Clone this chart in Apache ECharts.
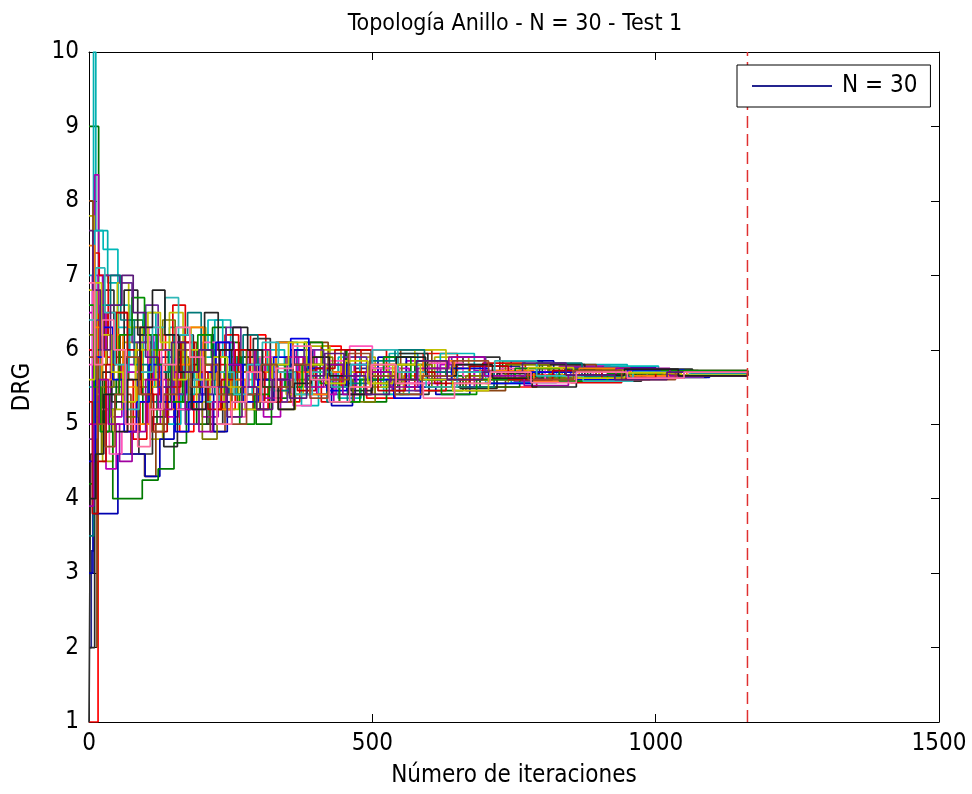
<!DOCTYPE html>
<html>
<head>
<meta charset="utf-8">
<script src="https://cdn.jsdelivr.net/npm/echarts@6/dist/echarts.min.js"></script>
<style>
html,body{margin:0;padding:0;background:#fff;}
#chart{width:972px;height:794px;}
</style>
</head>
<body>
<div id="chart"></div>
<script>
// ---- data: [iteration, DRG] pairs for each node ----
const drg01 = [[0,2.0],[4,3.3],[9,5.1],[22,4.9],[40,5.5],[62,5.3],[85,6.1],[110,5.5],[128,5.9],[150,5.2],[175,5.6],[198,6.2],[220,5.7],[246,5.4],[270,5.9],[300,5.5],[330,5.8],[362,6.0],[395,5.6],[430,5.4],[470,5.75],[520,5.9],[575,5.6],[630,5.5],[690,5.78],[760,5.62],[840,5.72],[930,5.66],[1040,5.70],[1162,5.69]];
const drg02 = [[0,9.0],[17,6.3],[30,5.2],[48,5.6],[70,6.4],[95,5.0],[120,5.4],[140,6.0],[165,5.3],[190,5.0],[212,5.5],[240,6.1],[265,5.8],[290,5.2],[318,5.5],[350,5.9],[385,5.4],[420,5.7],[455,6.0],[500,5.5],[545,5.8],[600,5.45],[660,5.7],[730,5.85],[800,5.6],[880,5.75],[970,5.64],[1080,5.70],[1162,5.68]];
const drg03 = [[0,1.0],[16,6.8],[28,5.9],[45,6.5],[68,4.9],[90,5.3],[112,6.2],[135,5.6],[160,4.9],[185,5.4],[205,6.0],[232,5.2],[258,5.7],[285,6.2],[312,5.6],[340,5.3],[372,5.8],[410,6.05],[445,5.5],[490,5.35],[540,5.7],[590,5.95],[650,5.6],[715,5.5],[790,5.75],[870,5.6],[960,5.72],[1060,5.65],[1162,5.67]];
const drg04 = [[0,5.5],[8,10.0],[12,7.6],[33,6.9],[51,6.6],[72,5.9],[96,6.5],[118,5.7],[142,6.3],[168,5.5],[195,5.9],[222,6.4],[250,5.6],[276,5.3],[305,5.9],[335,6.1],[368,5.5],[400,5.8],[440,5.35],[480,5.6],[530,5.95],[580,5.5],[640,5.8],[700,5.55],[780,5.7],[860,5.8],[950,5.62],[1050,5.72],[1162,5.70]];
const drg05 = [[0,6.5],[10,8.35],[17,7.0],[24,6.2],[38,5.1],[58,5.8],[80,6.3],[104,5.0],[126,5.5],[152,6.1],[178,5.7],[200,5.1],[228,5.6],[255,6.0],[280,5.4],[308,5.1],[338,5.6],[366,6.0],[398,5.7],[432,5.3],[468,5.8],[510,5.55],[560,5.85],[615,5.5],[680,5.72],[750,5.58],[830,5.78],[920,5.64],[1020,5.71],[1162,5.66]];
const drg06 = [[0,7.8],[9,5.8],[24,4.5],[42,5.2],[60,6.1],[84,5.6],[108,4.8],[130,5.3],[155,5.9],[180,6.3],[206,5.8],[230,5.3],[262,5.6],[290,5.9],[322,5.45],[355,5.7],[388,6.05],[425,5.6],[460,5.9],[505,5.4],[555,5.65],[610,5.9],[670,5.55],[740,5.8],[815,5.62],[900,5.74],[990,5.63],[1090,5.69],[1162,5.68]];
const drg07 = [[0,1.0],[3,4.6],[12,6.0],[26,6.8],[44,5.9],[66,5.3],[88,4.6],[112,5.1],[136,5.7],[160,6.2],[184,5.6],[208,5.0],[236,5.3],[262,5.9],[290,6.15],[320,5.7],[352,5.4],[384,5.75],[418,5.5],[452,6.0],[498,5.7],[548,5.4],[600,5.75],[660,5.9],[725,5.6],[800,5.7],[885,5.58],[975,5.72],[1075,5.66],[1162,5.68]];
const drg08 = [[0,8.0],[7,4.8],[14,2.0],[17,5.8],[32,6.5],[52,5.4],[74,4.6],[98,4.3],[118,5.0],[140,5.6],[164,6.1],[190,5.5],[214,4.9],[240,5.4],[268,6.0],[296,5.6],[326,5.3],[356,5.8],[390,6.1],[422,5.7],[458,5.4],[500,5.8],[550,6.0],[605,5.6],[665,5.45],[735,5.7],[810,5.8],[895,5.6],[990,5.7],[1090,5.66],[1162,5.68]];
const drg09 = [[0,3.0],[7,3.8],[51,4.6],[99,4.3],[125,4.8],[150,5.4],[172,5.9],[196,5.4],[220,4.9],[244,5.3],[270,5.8],[300,5.3],[326,5.6],[356,6.0],[392,5.5],[428,5.25],[465,5.6],[510,5.9],[560,5.5],[612,5.4],[672,5.7],[745,5.85],[820,5.6],[905,5.76],[1000,5.63],[1095,5.71],[1162,5.69]];
const drg10 = [[0,4.2],[10,5.6],[28,4.9],[42,4.0],[94,4.25],[122,4.4],[150,4.75],[172,5.3],[195,5.8],[218,6.3],[242,5.9],[268,5.4],[295,5.0],[322,5.35],[350,5.7],[380,6.1],[412,5.8],[448,5.5],[485,5.3],[525,5.6],[575,5.85],[630,5.65],[690,5.5],[760,5.64],[840,5.74],[925,5.62],[1020,5.7],[1162,5.67]];
const drg11 = [[0,6.0],[8,7.3],[18,7.0],[34,6.2],[55,5.6],[78,4.8],[102,5.4],[124,6.0],[148,6.6],[170,6.0],[194,5.5],[216,5.8],[240,6.2],[264,5.7],[290,5.2],[316,5.5],[346,5.9],[378,5.6],[410,5.3],[442,5.65],[480,6.0],[525,5.7],[575,5.45],[630,5.6],[695,5.82],[770,5.66],[850,5.56],[940,5.68],[1040,5.72],[1162,5.67]];
const drg12 = [[0,7.0],[10,7.6],[25,7.35],[51,6.3],[70,5.7],[92,6.1],[116,5.5],[138,5.0],[162,5.4],[186,6.0],[210,6.4],[236,5.9],[260,5.4],[288,5.7],[315,6.0],[345,5.5],[375,5.25],[405,5.6],[440,5.9],[478,5.6],[520,5.4],[565,5.7],[620,5.95],[680,5.7],[745,5.56],[825,5.7],[910,5.78],[1005,5.66],[1100,5.7],[1162,5.69]];
const drg13 = [[0,5.0],[6,7.0],[16,6.5],[30,4.4],[48,5.0],[66,5.7],[90,6.2],[114,5.6],[136,5.1],[158,5.7],[182,5.2],[206,5.6],[230,6.1],[256,5.5],[282,5.8],[310,5.35],[340,5.6],[370,5.9],[402,5.4],[436,5.7],[472,5.5],[515,5.75],[565,5.55],[620,5.8],[680,5.6],[750,5.7],[830,5.6],[915,5.7],[1010,5.66],[1162,5.69]];
const drg14 = [[0,6.8],[14,5.4],[30,6.0],[50,6.9],[70,6.3],[94,5.5],[118,6.0],[142,6.5],[166,5.8],[190,5.3],[214,5.7],[238,5.2],[264,5.5],[292,6.0],[318,5.7],[348,5.4],[378,5.8],[410,6.0],[445,5.7],[485,5.5],[528,5.8],[575,6.0],[630,5.75],[690,5.6],[760,5.75],[835,5.65],[920,5.72],[1015,5.65],[1162,5.68]];
const drg15 = [[0,2.0],[10,5.0],[24,5.7],[40,5.3],[62,6.8],[86,6.2],[110,5.2],[132,4.7],[156,5.2],[180,5.8],[204,6.5],[228,6.0],[252,5.5],[276,5.2],[302,5.6],[330,6.1],[360,5.8],[394,5.5],[426,5.8],[462,5.45],[500,5.7],[545,5.95],[598,5.6],[655,5.48],[720,5.68],[795,5.8],[875,5.65],[965,5.74],[1065,5.66],[1162,5.68]];
const drg16 = [[0,4.8],[12,6.4],[26,7.0],[54,6.9],[76,6.1],[100,6.6],[122,6.0],[146,5.4],[170,5.0],[194,5.4],[218,5.9],[242,6.3],[268,6.0],[294,5.6],[322,5.3],[350,5.7],[380,6.0],[414,5.6],[450,5.9],[490,5.7],[535,5.45],[585,5.7],[640,5.9],[700,5.7],[770,5.6],[850,5.76],[935,5.62],[1030,5.7],[1162,5.67]];
const drg17 = [[0,5.8],[7,6.8],[20,5.2],[36,4.6],[58,4.9],[82,5.7],[106,6.3],[128,5.8],[154,5.2],[176,5.6],[200,6.1],[224,5.6],[250,5.1],[276,5.5],[302,5.9],[330,5.6],[360,5.25],[392,5.5],[424,5.85],[460,6.05],[500,5.75],[548,5.55],[600,5.82],[660,5.65],[728,5.75],[805,5.6],[890,5.7],[985,5.64],[1085,5.7],[1162,5.68]];
const drg18 = [[0,6.2],[9,4.6],[22,5.5],[44,6.0],[64,5.1],[86,5.5],[108,6.0],[130,6.4],[152,5.9],[176,5.3],[200,4.8],[226,5.2],[252,5.7],[278,6.0],[306,5.5],[334,5.2],[364,5.6],[396,5.9],[430,5.6],[466,5.3],[505,5.55],[552,5.8],[605,5.5],[665,5.65],[735,5.8],[812,5.62],[895,5.74],[990,5.66],[1090,5.71],[1162,5.68]];
const drg19 = [[0,3.5],[8,5.3],[20,6.6],[38,7.0],[56,6.4],[80,5.8],[104,5.3],[128,5.7],[150,6.2],[174,6.5],[198,6.0],[222,5.4],[248,5.8],[272,6.2],[298,5.8],[325,5.45],[354,5.9],[386,5.6],[420,5.3],[456,5.55],[495,5.85],[540,6.0],[592,5.7],[650,5.5],[715,5.7],[790,5.82],[870,5.64],[960,5.72],[1060,5.68],[1162,5.69]];
const drg20 = [[0,7.4],[10,6.3],[22,5.6],[40,6.2],[60,5.5],[84,5.0],[108,5.6],[130,5.2],[154,5.8],[178,6.3],[202,5.7],[226,5.2],[250,5.6],[276,5.3],[302,5.7],[330,6.1],[360,5.7],[390,5.4],[422,5.7],[456,5.5],[496,5.8],[540,5.6],[590,5.85],[645,5.6],[710,5.72],[785,5.58],[865,5.75],[955,5.65],[1055,5.7],[1162,5.68]];
const drg21 = [[0,4.5],[11,5.9],[24,6.3],[42,5.6],[62,4.9],[84,5.3],[106,5.8],[128,5.3],[152,4.9],[176,5.3],[200,5.7],[224,6.1],[248,5.8],[272,5.3],[298,5.6],[326,5.9],[356,6.15],[388,5.75],[420,5.45],[455,5.8],[494,5.6],[538,5.35],[585,5.6],[640,5.75],[705,5.55],[780,5.7],[860,5.6],[950,5.73],[1050,5.66],[1162,5.69]];
const drg22 = [[0,6.6],[9,5.5],[20,4.9],[36,5.4],[54,6.2],[76,6.7],[98,6.2],[120,5.8],[144,5.3],[168,5.7],[192,6.2],[216,5.9],[240,5.4],[266,5.0],[292,5.4],[318,5.8],[346,5.5],[376,5.8],[408,5.55],[442,5.3],[478,5.6],[520,5.9],[568,5.6],[622,5.4],[684,5.6],[752,5.75],[830,5.58],[915,5.68],[1010,5.72],[1162,5.68]];
const drg23 = [[0,5.3],[6,3.8],[16,4.5],[30,5.8],[48,6.5],[68,6.0],[92,5.4],[114,4.9],[138,5.5],[162,6.1],[186,5.7],[210,5.2],[234,5.6],[258,6.0],[284,5.7],[310,5.3],[338,5.7],[368,5.45],[400,5.75],[434,6.0],[470,5.7],[510,5.45],[558,5.7],[610,5.55],[672,5.78],[740,5.6],[818,5.72],[905,5.62],[1000,5.7],[1162,5.67]];
const drg24 = [[0,6.4],[12,7.1],[28,6.5],[46,5.8],[66,5.2],[88,5.7],[112,6.3],[134,6.7],[158,6.2],[182,5.6],[206,5.3],[230,5.7],[256,5.4],[280,5.8],[306,6.1],[334,5.7],[364,5.4],[394,5.7],[428,5.5],[462,5.8],[500,6.0],[545,5.7],[595,5.5],[650,5.7],[716,5.85],[790,5.65],[872,5.58],[960,5.7],[1060,5.67],[1162,5.69]];
const drg25 = [[0,3.9],[8,5.0],[18,5.6],[34,5.0],[54,4.5],[76,4.9],[100,5.6],[122,5.2],[146,5.7],[170,5.2],[194,4.9],[218,5.3],[242,5.8],[268,5.5],[292,6.0],[320,5.6],[350,5.9],[382,5.5],[414,5.8],[448,5.4],[488,5.7],[532,5.5],[580,5.75],[635,5.9],[698,5.65],[768,5.52],[846,5.66],[930,5.75],[1025,5.65],[1162,5.68]];
const drg26 = [[0,5.6],[10,6.9],[22,6.2],[40,5.7],[60,5.3],[82,6.0],[104,6.5],[126,6.1],[148,5.6],[172,6.0],[196,5.6],[220,5.9],[244,5.5],[270,5.2],[296,5.5],[324,5.8],[352,6.1],[384,5.8],[418,5.55],[452,5.85],[492,5.55],[536,5.8],[585,5.6],[642,5.45],[705,5.62],[775,5.76],[855,5.62],[945,5.69],[1045,5.66],[1162,5.68]];
const drg27 = [[0,4.0],[12,4.6],[26,5.4],[46,4.9],[68,5.6],[90,6.3],[112,6.8],[134,6.2],[158,5.7],[182,5.2],[206,5.5],[230,6.0],[254,6.3],[280,6.0],[306,5.5],[334,5.2],[362,5.55],[392,5.9],[424,5.65],[458,5.4],[498,5.65],[542,5.9],[594,5.65],[648,5.8],[712,5.62],[782,5.5],[860,5.66],[945,5.74],[1040,5.65],[1162,5.68]];
const drg28 = [[0,5.9],[14,5.0],[28,4.7],[46,5.4],[64,5.9],[88,5.4],[110,4.9],[132,5.4],[156,6.0],[180,5.5],[204,5.8],[228,5.4],[252,5.0],[278,5.4],[304,5.8],[332,5.5],[360,5.8],[390,5.35],[422,5.6],[458,5.95],[496,5.65],[540,5.4],[588,5.65],[642,5.85],[705,5.7],[775,5.6],[855,5.72],[940,5.6],[1035,5.7],[1162,5.68]];
const drg29 = [[0,7.6],[7,6.8],[20,6.0],[38,6.6],[58,7.0],[78,6.5],[100,5.9],[122,5.5],[146,6.1],[170,5.7],[194,6.0],[218,5.5],[244,5.1],[270,5.5],[296,5.2],[324,5.6],[354,5.35],[384,5.65],[416,5.95],[450,5.65],[488,5.4],[530,5.6],[578,5.85],[632,5.6],[694,5.7],[765,5.82],[842,5.66],[928,5.6],[1020,5.7],[1162,5.68]];
const drg30 = [[0,6.9],[10,5.8],[24,6.4],[44,6.0],[64,5.0],[86,4.7],[108,5.2],[130,5.8],[154,6.3],[178,5.9],[202,5.5],[226,5.0],[252,5.3],[278,5.7],[304,5.3],[330,5.75],[360,6.05],[392,5.6],[424,5.3],[460,5.5],[498,5.8],[542,5.55],[590,5.35],[645,5.55],[708,5.7],[780,5.56],[860,5.7],[950,5.62],[1050,5.7],[1162,5.68]];

const nodeSeries = [drg01,drg02,drg03,drg04,drg05,drg06,drg07,drg08,drg09,drg10,
                    drg11,drg12,drg13,drg14,drg15,drg16,drg17,drg18,drg19,drg20,
                    drg21,drg22,drg23,drg24,drg25,drg26,drg27,drg28,drg29,drg30];
const seriesColors = ['#24248f','#007000','#ff0000','#00b0b0','#b000b0','#b0b000','#303030','#8b4513','#0000b0','#007a00',
                      '#e00000','#00b8b8','#b800b8','#c0c000','#282828','#6a2a9a','#ff55bb','#7a7a00','#007878','#ff8000',
                      '#0000e0','#009000','#c00000','#30b8b8','#a000a0','#c8c800','#202020','#9a4a28','#5a1a7a','#ff70a0'];
const endIteration = 1162;
const xTicks = [0, 500, 1000, 1500];
const yTicks = [1,2,3,4,5,6,7,8,9,10];
const legendLabel = 'N = 30';
const titleText = 'Topología Anillo - N = 30 - Test 1';
const xName = 'Número de iteraciones';
const yName = 'DRG';

const FONT = "'Liberation Sans Narrow','Arial Narrow','DejaVu Sans Condensed',sans-serif";

const chart = echarts.init(document.getElementById('chart'), null, {renderer:'canvas'});

const series = nodeSeries.map((d, i) => ({
  name: i === 0 ? legendLabel : ('nodo ' + (i + 1)),
  type: 'line',
  step: 'end',
  data: d,
  showSymbol: false,
  symbol: 'none',
  silent: true,
  lineStyle: {width: 1.7, color: seriesColors[i]},
  itemStyle: {color: seriesColors[i]},
  z: 2
}));
series.push({
  name: 'fin',
  type: 'line',
  data: [[endIteration, yTicks[0]], [endIteration, yTicks[yTicks.length - 1]]],
  showSymbol: false,
  symbol: 'none',
  silent: true,
  lineStyle: {width: 1.5, color: '#e03030', type: [12, 6]},
  z: 3
});

const axisCommon = {
  axisLine: {show: true, onZero: false, lineStyle: {color: '#000', width: 1}},
  axisTick: {show: true, inside: true, length: 8, lineStyle: {color: '#000'}},
  splitLine: {show: false}
};

const option = {
  animation: false,
  backgroundColor: '#fff',
  title: {
    text: titleText,
    left: 510, top: 8, textAlign: 'center',
    textStyle: {fontFamily: FONT, fontSize: 23, fontWeight: 'normal', color: '#000'}
  },
  legend: {
    data: [{name: legendLabel, icon: 'rect'}],
    left: 737, top: 65,
    itemWidth: 80, itemHeight: 2,
    padding: [9, 13, 9, 15],
    borderColor: '#000', borderWidth: 1, borderRadius: 0,
    backgroundColor: '#fff',
    selectedMode: false,
    textStyle: {fontFamily: FONT, fontSize: 24, color: '#000', padding: [0, 0, 0, 5]}
  },
  grid: {left: 89, right: 33, top: 52, bottom: 72, containLabel: false},
  xAxis: [
    Object.assign({
      type: 'value', min: xTicks[0], max: xTicks[xTicks.length - 1], interval: 500,
      position: 'bottom',
      name: xName, nameLocation: 'middle', nameGap: 42,
      nameTextStyle: {fontFamily: FONT, fontSize: 24, color: '#000'},
      axisLabel: {show: true, margin: 10, color: '#000', fontFamily: FONT, fontSize: 24,
                  formatter: v => String(v)}
    }, axisCommon),
    Object.assign({
      type: 'value', min: xTicks[0], max: xTicks[xTicks.length - 1], interval: 500,
      position: 'top', axisLabel: {show: false}
    }, axisCommon)
  ],
  yAxis: [
    Object.assign({
      type: 'value', min: yTicks[0], max: yTicks[yTicks.length - 1], interval: 1,
      position: 'left',
      name: yName, nameLocation: 'middle', nameGap: 54, nameRotate: 90,
      nameTextStyle: {fontFamily: FONT, fontSize: 24, color: '#000'},
      axisLabel: {show: true, margin: 10, color: '#000', fontFamily: FONT, fontSize: 24,
                  formatter: v => String(v)}
    }, axisCommon),
    Object.assign({
      type: 'value', min: yTicks[0], max: yTicks[yTicks.length - 1], interval: 1,
      position: 'right', axisLabel: {show: false}
    }, axisCommon)
  ],
  series: series
};
chart.setOption(option);
</script>
</body>
</html>
